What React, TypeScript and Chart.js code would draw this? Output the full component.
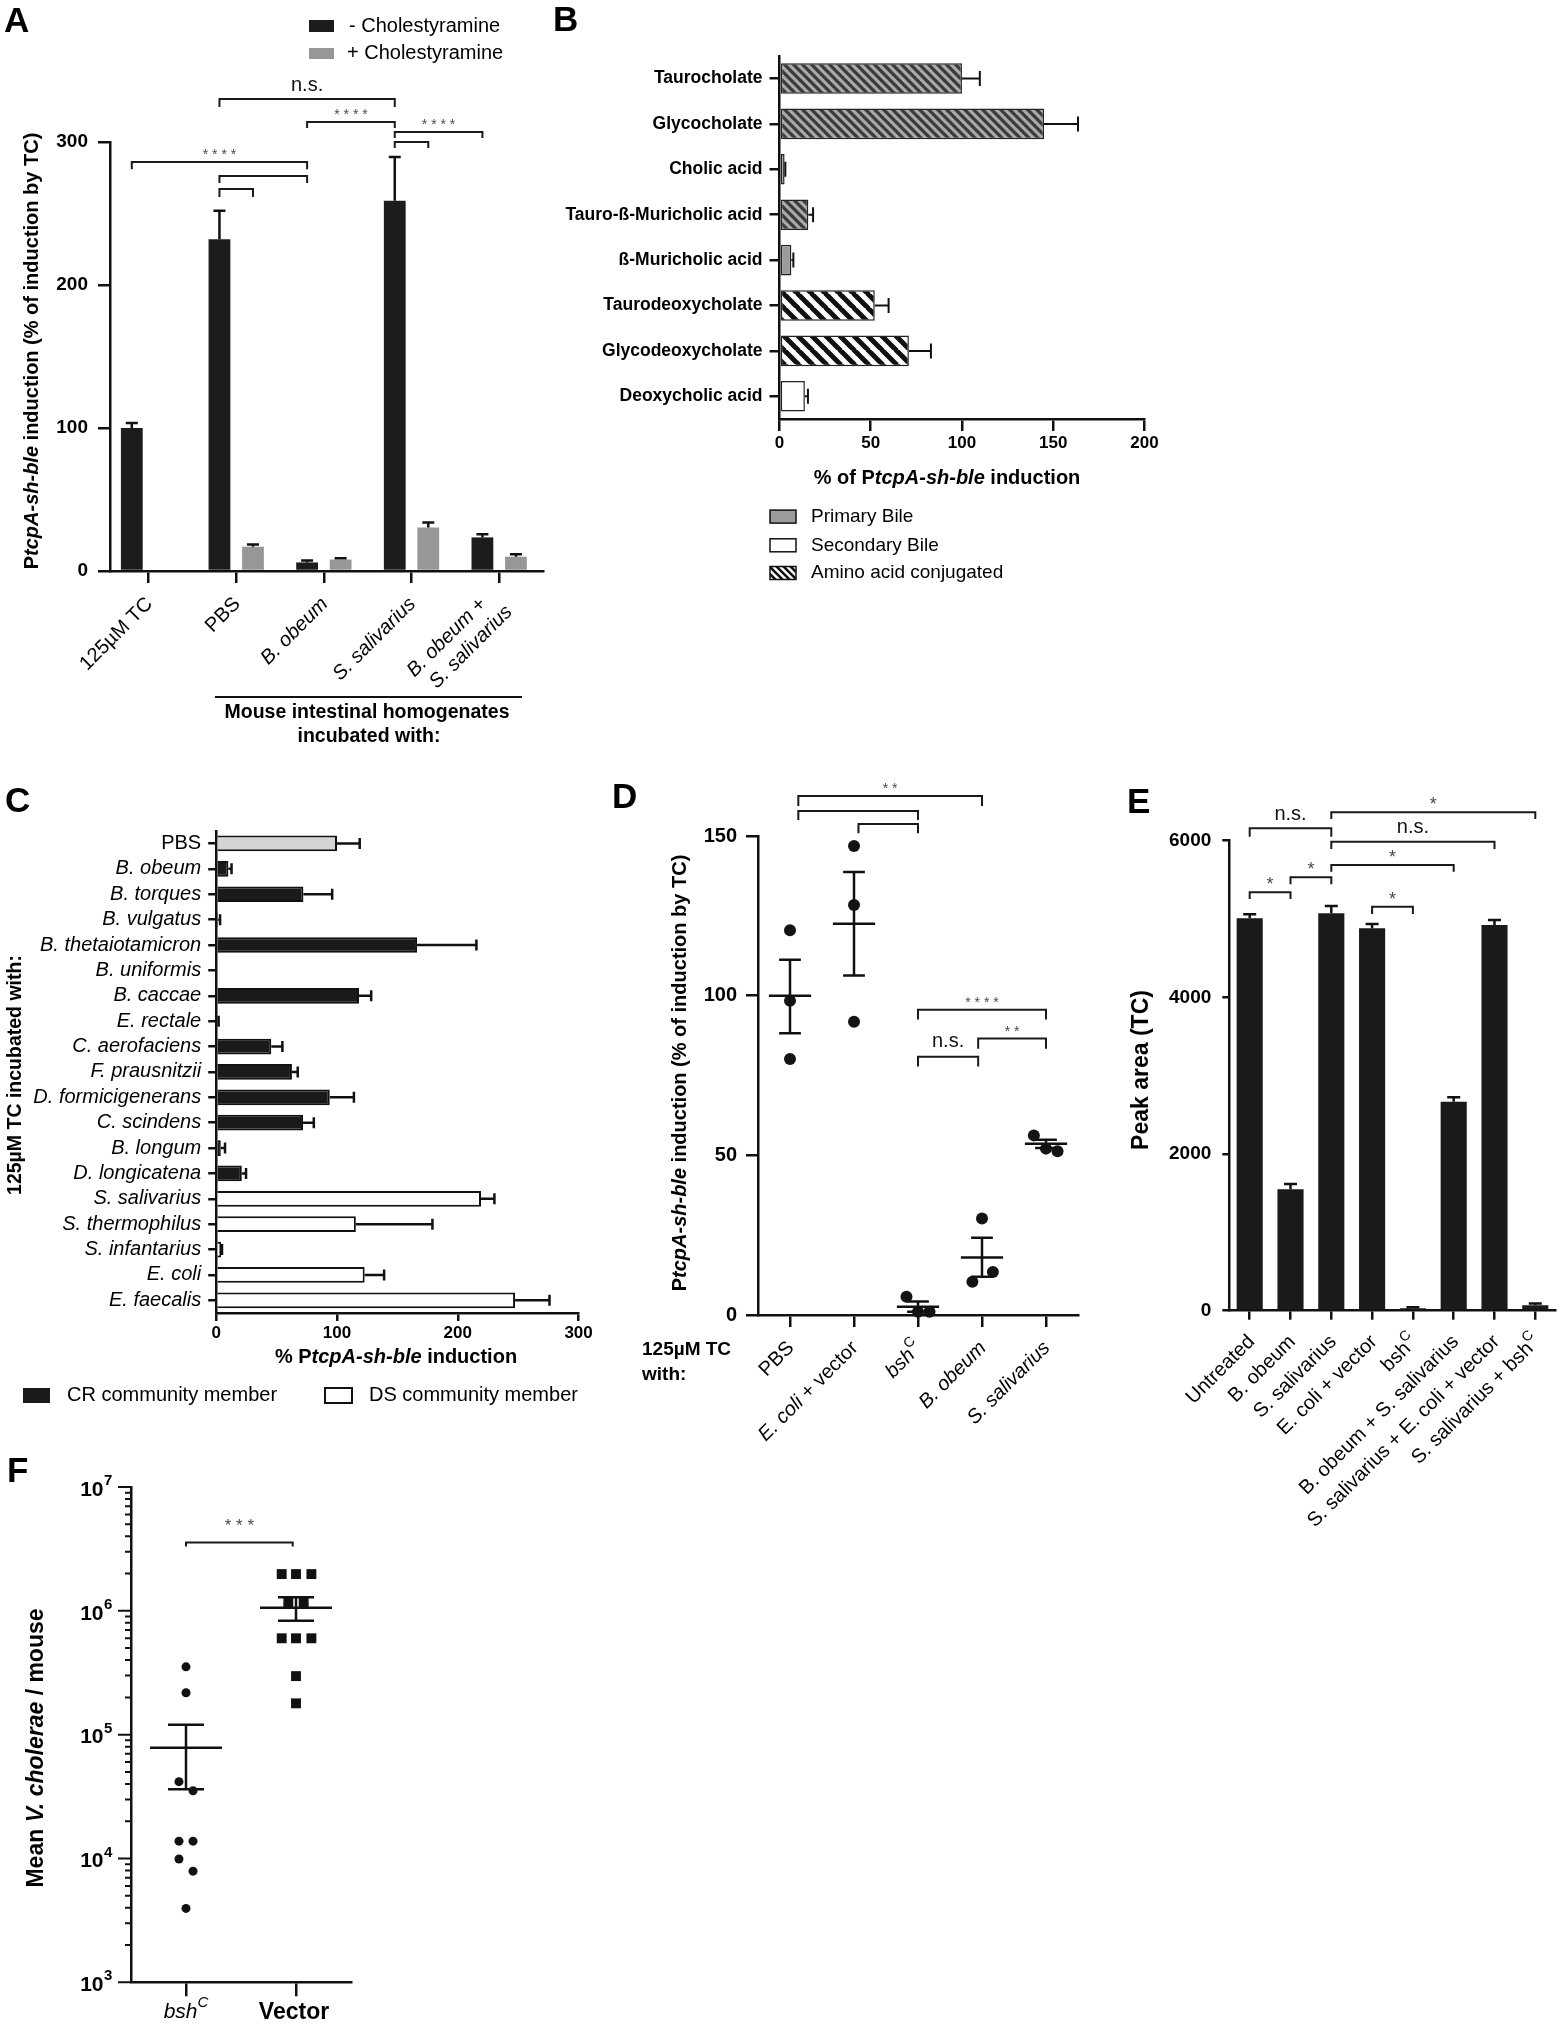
import React, { useEffect, useRef } from 'react';
import { Chart, registerables } from 'chart.js';

Chart.register(...registerables);

const FONT = '"Liberation Sans", Arial, Helvetica, sans-serif';
Chart.defaults.font.family = FONT;
Chart.defaults.color = '#000';

const PAGE_W = 1560;
const PAGE_H = 2025;

type Seg = { t: string; i?: boolean; b?: boolean; sup?: boolean };

/* ================= Panel A data ================= */
const A_CATEGORIES = ['125µM TC', 'PBS', 'B. obeum', 'S. salivarius', 'B. obeum + S. salivarius'];
const A_SERIES = ['- Cholestyramine', '+ Cholestyramine'];
const A_MINUS = [100, 232, 6, 259, 23.5];
const A_MINUS_ERR = [103.5, 252, 7.4, 289.5, 25.7];
const A_PLUS = [null, 17, 8, 30.5, 10];
const A_PLUS_ERR = [null, 18.5, 9, 34, 11.8];
const A_Y_TICKS = [0, 100, 200, 300];
const A_TICK_LABELS: Seg[][][] = [
  [[{ t: '125µM TC' }]],
  [[{ t: 'PBS' }]],
  [[{ t: 'B. obeum', i: true }]],
  [[{ t: 'S. salivarius', i: true }]],
  [[{ t: 'B. obeum', i: true }, { t: ' +' }], [{ t: 'S. salivarius', i: true }]],
];
const A_BRACKETS = [
  { a: [0, 1], b: [0, 3], y: 330, leg: 324.5, label: 'n.s.' },
  { a: [0, 2], b: [0, 3], y: 314, leg: 309.8, label: '****' },
  { a: [0, 3], b: [0, 4], y: 307, leg: 302.8, label: '****' },
  { a: [0, 3], b: [1, 3], y: 300, leg: 295.8, label: '' },
  { a: [0, 0], b: [0, 2], y: 286, leg: 281, label: '****' },
  { a: [0, 1], b: [0, 2], y: 276.2, leg: 271.3, label: '' },
  { a: [0, 1], b: [1, 1], y: 267.1, leg: 261.5, label: '' },
];

/* ================= Panel B data ================= */
const B_CATEGORIES = ['Taurocholate', 'Glycocholate', 'Cholic acid', 'Tauro-ß-Muricholic acid', 'ß-Muricholic acid', 'Taurodeoxycholate', 'Glycodeoxycholate', 'Deoxycholic acid'];
const B_VALUES = [100, 145, 2.8, 15.8, 6.5, 52.2, 70.9, 13.9];
const B_ERR = [109.8, 163.6, 3.2, 18.4, 7.6, 59.8, 83, 15.6];
const B_CLASS = ['primaryConj', 'primaryConj', 'primary', 'primaryConj', 'primary', 'secondaryConj', 'secondaryConj', 'secondary'];
const B_X_TICKS = [0, 50, 100, 150, 200];
const B_LEGEND = ['Primary Bile', 'Secondary Bile', 'Amino acid conjugated'];

/* ================= Panel C data ================= */
const C_CATEGORIES = ['PBS', 'B. obeum', 'B. torques', 'B. vulgatus', 'B. thetaiotamicron', 'B. uniformis', 'B. caccae', 'E. rectale', 'C. aerofaciens', 'F. prausnitzii', 'D. formicigenerans', 'C. scindens', 'B. longum', 'D. longicatena', 'S. salivarius', 'S. thermophilus', 'S. infantarius', 'E. coli', 'E. faecalis'];
const C_VALUES = [100, 10.1, 72.2, 1.6, 166.3, 0, 118.2, 1, 45.6, 62.7, 94, 71.9, 3.8, 21.2, 219.2, 115.6, 4.1, 122.9, 247.4];
const C_ERR = [118.8, 12.7, 96, 3.2, 215.4, 0, 128.3, 2, 54.8, 67.5, 114, 80.8, 7.3, 24.7, 230.3, 179, 4.8, 139, 275.9];
const C_GROUP = ['PBS', 'CR', 'CR', 'CR', 'CR', 'CR', 'CR', 'CR', 'CR', 'CR', 'CR', 'CR', 'CR', 'CR', 'DS', 'DS', 'DS', 'DS', 'DS'];
const C_X_TICKS = [0, 100, 200, 300];
const C_LEGEND = ['CR community member', 'DS community member'];

/* ================= Panel D data ================= */
const D_CATEGORIES = ['PBS', 'E. coli + vector', 'bshC', 'B. obeum', 'S. salivarius'];
const D_POINTS = [[120.5, 98.4, 80.2], [146.9, 128.4, 91.8], [5.7, 1.0, 1.0], [30.2, 13.5, 10.4], [56.25, 52.1, 51.25]];
const D_JITTER = [[0, 0, 0], [0, 0, 0], [-0.18, 0, 0.18], [0, 0.17, -0.15], [-0.19, 0, 0.18]];
const D_MEAN = [100, 122.5, 2.6, 18.0, 53.6];
const D_SEM_HI = [111.25, 138.75, 4.2, 24.2, 54.9];
const D_SEM_LO = [88.2, 106.3, 1.0, 12.0, 52.3];
const D_Y_TICKS = [0, 50, 100, 150];
const D_TICK_LABELS: Seg[][] = [
  [{ t: 'PBS' }],
  [{ t: 'E. coli', i: true }, { t: ' + vector' }],
  [{ t: 'bsh', i: true }, { t: 'C', sup: true }],
  [{ t: 'B. obeum', i: true }],
  [{ t: 'S. salivarius', i: true }],
];
const D_BRACKETS = [
  { x1: 0.13, x2: 3, y: 162.5, leg: 159.4, label: '**' },
  { x1: 0.13, x2: 2, y: 157.8, leg: 155.0, label: '' },
  { x1: 1.07, x2: 2, y: 153.75, leg: 150.9, label: '' },
  { x1: 2, x2: 4, y: 95.6, leg: 92.5, label: '****' },
  { x1: 2.94, x2: 4, y: 86.6, leg: 83.4, label: '**' },
  { x1: 2, x2: 2.94, y: 80.9, leg: 77.8, label: 'n.s.' },
];

/* ================= Panel E data ================= */
const E_CATEGORIES = ['Untreated', 'B. obeum', 'S. salivarius', 'E. coli + vector', 'bshC', 'B. obeum + S. salivarius', 'S. salivarius + E. coli + vector', 'S. salivarius + bshC'];
const E_VALUES = [5010, 1550, 5073, 4882, 30, 2668, 4924, 70];
const E_ERR = [5061, 1617, 5167, 4937, 45, 2724, 4988, 92];
const E_Y_TICKS = [0, 2000, 4000, 6000];
const E_TICK_LABELS: Seg[][] = [
  [{ t: 'Untreated' }],
  [{ t: 'B. obeum' }],
  [{ t: 'S. salivarius' }],
  [{ t: 'E. coli + vector' }],
  [{ t: 'bsh' }, { t: 'C', sup: true }],
  [{ t: 'B. obeum + S. salivarius' }],
  [{ t: 'S. salivarius + E. coli + vector' }],
  [{ t: 'S. salivarius + bsh' }, { t: 'C', sup: true }],
];
const E_BRACKETS = [
  { a: 0, b: 2, y: 6158, leg: 6051, label: 'n.s.' },
  { a: 2, b: 7, y: 6363, leg: 6277, label: '*' },
  { a: 2, b: 6, y: 5988, leg: 5894, label: 'n.s.' },
  { a: 2, b: 5, y: 5691, leg: 5605, label: '*' },
  { a: 1, b: 2, y: 5533, leg: 5444, label: '*' },
  { a: 0, b: 1, y: 5342, leg: 5256, label: '*' },
  { a: 3, b: 4, y: 5158, leg: 5064, label: '*' },
];

/* ================= Panel F data ================= */
const F_CATEGORIES = ['bshC', 'Vector'];
const F_BSH = [3.53e5, 2.18e5, 4.17e4, 3.52e4, 1.38e4, 1.38e4, 9.9e3, 7.9e3, 3.95e3];
const F_BSH_JITTER = [0, 0, -0.064, 0.064, -0.064, 0.064, -0.064, 0.064, 0];
const F_VECTOR = [1.98e6, 1.98e6, 1.98e6, 1.17e6, 1.17e6, 6.0e5, 6.0e5, 6.0e5, 2.97e5, 1.79e5];
const F_VECTOR_JITTER = [-0.13, 0, 0.14, -0.07, 0.07, -0.13, 0, 0.14, 0, 0];
const F_MEAN = [7.84e4, 1.06e6];
const F_SEM_HI = [1.2e5, 1.29e6];
const F_SEM_LO = [3.63e4, 8.3e5];
const F_DECADES = [3, 4, 5, 6, 7];
const F_BRACKET = { x1: 0, x2: 0.97, y: 3.57e6, leg: 3.3e6, label: '***' };

/* ================= helpers ================= */
function fontStr(size: number, bold: boolean, italic: boolean) {
  return `${italic ? 'italic ' : ''}${bold ? 'bold ' : ''}${size}px ${FONT}`;
}

function drawRich(ctx: any, segs: Seg[], x: number, y: number, size: number, o: any = {}) {
  ctx.save();
  ctx.translate(x, y);
  if (o.angle) ctx.rotate(o.angle);
  ctx.fillStyle = o.color || '#000';
  ctx.textBaseline = 'middle';
  ctx.textAlign = 'left';
  const fonts = segs.map((s) => fontStr(s.sup ? Math.round(size * 0.7) : size, s.b ?? !!o.bold, !!s.i));
  const widths = segs.map((s, k) => {
    ctx.font = fonts[k];
    return ctx.measureText(s.t).width;
  });
  const total = widths.reduce((a, b) => a + b, 0);
  let cx = o.align === 'center' ? -total / 2 : o.align === 'right' ? -total : 0;
  segs.forEach((s, k) => {
    ctx.font = fonts[k];
    ctx.fillText(s.t, cx, s.sup ? -size * 0.42 : 0);
    cx += widths[k];
  });
  ctx.restore();
}

function panelLetter(ctx: any, s: string, x: number, y: number) {
  ctx.save();
  ctx.font = fontStr(35, true, false);
  ctx.fillStyle = '#000';
  ctx.textBaseline = 'alphabetic';
  ctx.textAlign = 'left';
  ctx.fillText(s, x, y);
  ctx.restore();
}

function drawBracket(ctx: any, x1: number, x2: number, yBar: number, yLeg: number, label: string, st: any) {
  ctx.save();
  ctx.strokeStyle = '#1a1a1a';
  ctx.lineWidth = 2;
  ctx.beginPath();
  ctx.moveTo(x1, yLeg);
  ctx.lineTo(x1, yBar);
  ctx.lineTo(x2, yBar);
  ctx.lineTo(x2, yLeg);
  ctx.stroke();
  ctx.restore();
  if (!label) return;
  const xm = (x1 + x2) / 2;
  if (label.includes('*')) {
    const txt = st.spaced ? label.split('').join(' ') : label;
    drawRich(ctx, [{ t: txt }], xm, yBar - st.starGap + 0.23 * st.star, st.star, { align: 'center', color: '#4a4a4a' });
  } else {
    drawRich(ctx, [{ t: label }], xm, yBar - st.nsGap - 0.09 * st.ns, st.ns, { align: 'center', color: '#111' });
  }
}

function errorV(ctx: any, x: number, y0: number, y1: number, half: number, lw: number) {
  ctx.save();
  ctx.strokeStyle = '#111';
  ctx.lineWidth = lw;
  ctx.beginPath();
  ctx.moveTo(x, y0);
  ctx.lineTo(x, y1);
  ctx.moveTo(x - half, y1);
  ctx.lineTo(x + half, y1);
  ctx.stroke();
  ctx.restore();
}

function errorH(ctx: any, x0: number, x1: number, y: number, half: number, lw: number) {
  ctx.save();
  ctx.strokeStyle = '#111';
  ctx.lineWidth = lw;
  ctx.beginPath();
  ctx.moveTo(x0, y);
  ctx.lineTo(x1, y);
  ctx.moveTo(x1, y - half);
  ctx.lineTo(x1, y + half);
  ctx.stroke();
  ctx.restore();
}

function meanSem(ctx: any, xs: any, ys: any, i: number, mean: number, lo: number, hi: number, meanHalf: number, capHalf: number) {
  const cx = xs.getPixelForValue(i);
  const ml = xs.getPixelForValue(i - meanHalf);
  const mr = xs.getPixelForValue(i + meanHalf);
  const cl = xs.getPixelForValue(i - capHalf);
  const cr = xs.getPixelForValue(i + capHalf);
  const ym = ys.getPixelForValue(mean);
  const yl = ys.getPixelForValue(lo);
  const yh = ys.getPixelForValue(hi);
  ctx.save();
  ctx.strokeStyle = '#111';
  ctx.lineWidth = 2.5;
  ctx.beginPath();
  ctx.moveTo(ml, ym);
  ctx.lineTo(mr, ym);
  ctx.moveTo(cx, yl);
  ctx.lineTo(cx, yh);
  ctx.moveTo(cl, yh);
  ctx.lineTo(cr, yh);
  ctx.moveTo(cl, yl);
  ctx.lineTo(cr, yl);
  ctx.stroke();
  ctx.restore();
}

function stripes(bg: string, fg: string, period: number, lw: number) {
  const c = document.createElement('canvas');
  c.width = period;
  c.height = period;
  const g = c.getContext('2d') as CanvasRenderingContext2D;
  g.fillStyle = bg;
  g.fillRect(0, 0, period, period);
  g.strokeStyle = fg;
  g.lineWidth = lw;
  g.beginPath();
  for (const o of [-period, 0, period]) {
    g.moveTo(o - 1, -1);
    g.lineTo(o + period + 1, period + 1);
  }
  g.stroke();
  return g.createPattern(c, 'repeat') as CanvasPattern;
}

function baseOptions(area: any, yW: number, xH: number) {
  return {
    responsive: false,
    maintainAspectRatio: false,
    animation: false,
    devicePixelRatio: 1,
    events: [],
    layout: { padding: { left: area.l - yW, top: area.t, right: PAGE_W - area.r, bottom: PAGE_H - area.b - xH } },
    plugins: { legend: { display: false }, tooltip: { enabled: false }, title: { display: false } },
  };
}

function axisLine(tickLength: number, showGrid = true) {
  return {
    grid: { display: showGrid, drawOnChartArea: false, drawTicks: true, tickLength, color: '#111', lineWidth: 2.5, offset: false },
    border: { display: true, color: '#111', width: 2.5 },
  };
}

const fixW = (w: number) => (s: any) => {
  s.width = w;
  s.paddingTop = 0;
  s.paddingBottom = 0;
};
const fixH = (h: number) => (s: any) => {
  s.height = h;
  s.paddingLeft = 0;
  s.paddingRight = 0;
};
const tickFont = (size: number, bold = true) => ({ family: FONT, size, weight: bold ? 'bold' : 'normal' });
const setTicks = (vals: number[]) => (s: any) => {
  s.ticks = vals.map((v) => ({ value: v }));
};

/* ================= Panel A ================= */
function makeA(canvas: HTMLCanvasElement) {
  const area = { l: 110, t: 142, r: 543, b: 571 };
  const colors = ['#1c1c1c', '#979797'];
  const st = { star: 14, ns: 20, starGap: 10, nsGap: 12, spaced: true };
  const plugin = {
    id: 'panelA',
    afterDatasetsDraw(chart: any) {
      const ctx = chart.ctx;
      const ys = chart.scales.y;
      [A_MINUS_ERR, A_PLUS_ERR].forEach((errs, d) => {
        chart.getDatasetMeta(d).data.forEach((el: any, j: number) => {
          const e = errs[j];
          if (e == null) return;
          errorV(ctx, el.x, el.y, ys.getPixelForValue(e), 6, 2.5);
        });
      });
    },
    afterDraw(chart: any) {
      const ctx = chart.ctx;
      const xs = chart.scales.x;
      const ys = chart.scales.y;
      const barX = (ref: number[]) => chart.getDatasetMeta(ref[0]).data[ref[1]].x;
      A_BRACKETS.forEach((b) => drawBracket(ctx, barX(b.a), barX(b.b), ys.getPixelForValue(b.y), ys.getPixelForValue(b.leg), b.label, st));
      A_TICK_LABELS.forEach((lines, i) => {
        const tx = xs.getPixelForValue(i);
        const multi = lines.length > 1;
        lines.forEach((segs, k) => {
          drawRich(ctx, segs, tx + (multi ? -16 : 1) + 26 * k, ys.bottom + 30 + 8 * k, 20, { align: 'right', angle: -Math.PI / 4 });
        });
      });
      const dsc = chart.data.datasets.map((d: any) => d.backgroundColor);
      ctx.fillStyle = dsc[0];
      ctx.fillRect(309, 20, 25, 12);
      drawRich(ctx, [{ t: A_SERIES[0] }], 349, 26, 20);
      ctx.fillStyle = dsc[1];
      ctx.fillRect(309, 48, 25, 11);
      drawRich(ctx, [{ t: A_SERIES[1] }], 347, 53.5, 20);
      drawRich(ctx, [{ t: 'P' }, { t: 'tcpA-sh-ble', i: true }, { t: ' induction (% of induction by TC)' }], 32, 351, 20, { bold: true, align: 'center', angle: -Math.PI / 2 });
      ctx.save();
      ctx.strokeStyle = '#111';
      ctx.lineWidth = 2;
      ctx.beginPath();
      ctx.moveTo(215, 697);
      ctx.lineTo(522, 697);
      ctx.stroke();
      ctx.restore();
      drawRich(ctx, [{ t: 'Mouse intestinal homogenates' }], 367, 713, 19.5, { bold: true, align: 'center' });
      drawRich(ctx, [{ t: 'incubated with:' }], 369, 737, 19.5, { bold: true, align: 'center' });
      panelLetter(ctx, 'A', 4, 32);
    },
  };
  return new Chart(canvas, {
    type: 'bar',
    data: {
      datasets: [A_MINUS, A_PLUS].map((vals, d) => ({
        label: A_SERIES[d],
        data: vals.map((v, i) => ({ x: i, y: v })),
        backgroundColor: colors[d],
        borderWidth: 0,
        barPercentage: 0.65,
        categoryPercentage: 0.765,
      })),
    },
    options: {
      ...baseOptions(area, 60, 40),
      scales: {
        x: {
          type: 'linear', min: -0.44, max: 4.5, offset: false,
          afterBuildTicks: setTicks(A_CATEGORIES.map((_, i) => i)),
          ticks: { display: false },
          ...axisLine(12),
          afterFit: fixH(40),
        },
        y: {
          type: 'linear', min: 0, max: 300,
          afterBuildTicks: setTicks(A_Y_TICKS),
          ticks: { font: tickFont(19), color: '#000', padding: 10, callback: (v: any) => String(v) },
          ...axisLine(12),
          afterFit: fixW(60),
        },
      },
    },
    plugins: [plugin],
  } as any);
}

/* ================= Panel B ================= */
function makeB(canvas: HTMLCanvasElement) {
  const area = { l: 779.5, t: 55.8, r: 1144.4, b: 419 };
  const fills: any = {
    primary: '#9c9c9c',
    secondary: '#ffffff',
    primaryConj: stripes('#a9a9a9', '#3a3a3a', 9, 3.2),
    secondaryConj: stripes('#ffffff', '#111111', 14, 5),
  };
  const legendFills = [fills.primary, fills.secondary, stripes('#ffffff', '#111111', 7, 2.6)];
  const plugin = {
    id: 'panelB',
    afterDatasetsDraw(chart: any) {
      const ctx = chart.ctx;
      const xs = chart.scales.x;
      chart.getDatasetMeta(0).data.forEach((el: any, j: number) => {
        errorH(ctx, el.x, xs.getPixelForValue(B_ERR[j]), el.y, 7.5, 2);
      });
    },
    afterDraw(chart: any) {
      const ctx = chart.ctx;
      drawRich(ctx, [{ t: '% of P' }, { t: 'tcpA-sh-ble', i: true }, { t: ' induction' }], 947, 478, 20, { bold: true, align: 'center' });
      const ly = [516.6, 545.3, 573];
      B_LEGEND.forEach((txt, k) => {
        ctx.save();
        ctx.fillStyle = legendFills[k];
        ctx.fillRect(770, ly[k] - 6.5, 26, 13);
        ctx.strokeStyle = '#111';
        ctx.lineWidth = 1.5;
        ctx.strokeRect(770, ly[k] - 6.5, 26, 13);
        ctx.restore();
        drawRich(ctx, [{ t: txt }], 811, ly[k], 19);
      });
      panelLetter(ctx, 'B', 553, 31);
    },
  };
  return new Chart(canvas, {
    type: 'bar',
    data: {
      labels: B_CATEGORIES,
      datasets: [{
        data: B_VALUES,
        backgroundColor: B_CLASS.map((c) => fills[c]),
        borderColor: '#222',
        borderWidth: 1.5,
        borderSkipped: false,
        barPercentage: 0.675,
        categoryPercentage: 1,
      }],
    },
    options: {
      ...baseOptions(area, 230, 45),
      indexAxis: 'y',
      scales: {
        x: {
          type: 'linear', min: 0, max: 200,
          afterBuildTicks: setTicks(B_X_TICKS),
          ticks: { font: tickFont(17), color: '#000', padding: 2, callback: (v: any) => String(v) },
          ...axisLine(12),
          afterFit: fixH(45),
        },
        y: {
          type: 'category',
          ticks: { font: tickFont(17.5), color: '#000', padding: 7, autoSkip: false },
          ...axisLine(10),
          afterFit: fixW(230),
        },
      },
    },
    plugins: [plugin],
  } as any);
}

/* ================= Panel C ================= */
function makeC(canvas: HTMLCanvasElement) {
  const area = { l: 216.2, t: 830.8, r: 578.6, b: 1313 };
  const groupFill: any = { PBS: '#d4d4d4', CR: '#1a1a1a', DS: '#ffffff' };
  const plugin = {
    id: 'panelC',
    afterDatasetsDraw(chart: any) {
      const ctx = chart.ctx;
      const xs = chart.scales.x;
      chart.getDatasetMeta(0).data.forEach((el: any, j: number) => {
        if (!C_ERR[j]) return;
        errorH(ctx, el.x, xs.getPixelForValue(C_ERR[j]), el.y, 5.5, 2.5);
      });
    },
    afterDraw(chart: any) {
      const ctx = chart.ctx;
      drawRich(ctx, [{ t: '% P' }, { t: 'tcpA-sh-ble', i: true }, { t: ' induction' }], 396, 1357.5, 20, { bold: true, align: 'center' });
      drawRich(ctx, [{ t: '125µM TC incubated with:' }], 16, 1075, 19.5, { bold: true, align: 'center', angle: -Math.PI / 2 });
      ctx.save();
      ctx.fillStyle = groupFill.CR;
      ctx.fillRect(23, 1388, 27, 15);
      ctx.fillStyle = groupFill.DS;
      ctx.fillRect(325, 1388, 27, 15);
      ctx.strokeStyle = '#111';
      ctx.lineWidth = 2;
      ctx.strokeRect(325, 1388, 27, 15);
      ctx.restore();
      drawRich(ctx, [{ t: C_LEGEND[0] }], 67, 1395.5, 20);
      drawRich(ctx, [{ t: C_LEGEND[1] }], 369, 1395.5, 20);
      panelLetter(ctx, 'C', 5, 812);
    },
  };
  return new Chart(canvas, {
    type: 'bar',
    data: {
      labels: C_CATEGORIES,
      datasets: [{
        data: C_VALUES,
        backgroundColor: C_GROUP.map((g) => groupFill[g]),
        borderColor: '#111',
        borderWidth: 2,
        borderSkipped: 'start',
        barPercentage: 0.62,
        categoryPercentage: 1,
      }],
    },
    options: {
      ...baseOptions(area, 210, 40),
      indexAxis: 'y',
      scales: {
        x: {
          type: 'linear', min: 0, max: 300,
          afterBuildTicks: setTicks(C_X_TICKS),
          ticks: { font: tickFont(17), color: '#000', padding: 2, callback: (v: any) => String(v) },
          ...axisLine(8),
          afterFit: fixH(40),
        },
        y: {
          type: 'category',
          ticks: {
            color: '#000', padding: 7, autoSkip: false,
            font: (c: any) => ({ family: FONT, size: 20, weight: 'normal', style: C_GROUP[c.index] === 'PBS' ? 'normal' : 'italic' }),
          },
          ...axisLine(8),
          afterFit: fixW(210),
        },
      },
    },
    plugins: [plugin],
  } as any);
}

/* ================= Panel D ================= */
function makeD(canvas: HTMLCanvasElement) {
  const area = { l: 758, t: 836, r: 1078, b: 1315 };
  const st = { star: 14, ns: 20, starGap: 10, nsGap: 13, spaced: true };
  const pts = D_POINTS.flatMap((vals, i) => vals.map((v, k) => ({ x: i + D_JITTER[i][k], y: v })));
  const plugin = {
    id: 'panelD',
    afterDatasetsDraw(chart: any) {
      const ctx = chart.ctx;
      const xs = chart.scales.x;
      const ys = chart.scales.y;
      D_MEAN.forEach((m, i) => meanSem(ctx, xs, ys, i, m, D_SEM_LO[i], D_SEM_HI[i], 0.33, 0.17));
    },
    afterDraw(chart: any) {
      const ctx = chart.ctx;
      const xs = chart.scales.x;
      const ys = chart.scales.y;
      D_BRACKETS.forEach((b) => drawBracket(ctx, xs.getPixelForValue(b.x1), xs.getPixelForValue(b.x2), ys.getPixelForValue(b.y), ys.getPixelForValue(b.leg), b.label, st));
      D_TICK_LABELS.forEach((segs, i) => {
        drawRich(ctx, segs, xs.getPixelForValue(i) + 1, ys.bottom + 30, 20, { align: 'right', angle: -Math.PI / 4 });
      });
      drawRich(ctx, [{ t: 'P' }, { t: 'tcpA-sh-ble', i: true }, { t: ' induction (% of induction by TC)' }], 680, 1073, 20, { bold: true, align: 'center', angle: -Math.PI / 2 });
      drawRich(ctx, [{ t: '125µM TC' }], 642, 1350, 19, { bold: true });
      drawRich(ctx, [{ t: 'with:' }], 642, 1375, 19, { bold: true });
      panelLetter(ctx, 'D', 612, 808);
    },
  };
  return new Chart(canvas, {
    type: 'scatter',
    data: {
      datasets: [{ data: pts, pointRadius: 6, pointBackgroundColor: '#141414', pointBorderWidth: 0, clip: false }],
    },
    options: {
      ...baseOptions(area, 80, 30),
      scales: {
        x: {
          type: 'linear', min: -0.5, max: 4.5,
          afterBuildTicks: setTicks(D_CATEGORIES.map((_, i) => i)),
          ticks: { display: false },
          ...axisLine(12),
          afterFit: fixH(30),
        },
        y: {
          type: 'linear', min: 0, max: 150,
          afterBuildTicks: setTicks(D_Y_TICKS),
          ticks: { font: tickFont(20), color: '#000', padding: 9, callback: (v: any) => String(v) },
          ...axisLine(12),
          afterFit: fixW(80),
        },
      },
    },
    plugins: [plugin],
  } as any);
}

/* ================= Panel E ================= */
function makeE(canvas: HTMLCanvasElement) {
  const area = { l: 1229.3, t: 840.7, r: 1555.7, b: 1310.7 };
  const st = { star: 18, ns: 20, starGap: 11, nsGap: 12, spaced: false };
  const plugin = {
    id: 'panelE',
    afterDatasetsDraw(chart: any) {
      const ctx = chart.ctx;
      const ys = chart.scales.y;
      chart.getDatasetMeta(0).data.forEach((el: any, j: number) => {
        errorV(ctx, el.x, el.y, ys.getPixelForValue(E_ERR[j]), 6.5, 2.5);
      });
    },
    afterDraw(chart: any) {
      const ctx = chart.ctx;
      const xs = chart.scales.x;
      const ys = chart.scales.y;
      E_BRACKETS.forEach((b) => drawBracket(ctx, xs.getPixelForValue(b.a), xs.getPixelForValue(b.b), ys.getPixelForValue(b.y), ys.getPixelForValue(b.leg), b.label, st));
      E_TICK_LABELS.forEach((segs, i) => {
        drawRich(ctx, segs, xs.getPixelForValue(i) + 2, ys.bottom + 28, 20, { align: 'right', angle: -Math.PI / 4 });
      });
      drawRich(ctx, [{ t: 'Peak area (TC)' }], 1142, 1070, 23, { bold: true, align: 'center', angle: -Math.PI / 2 });
      panelLetter(ctx, 'E', 1127, 813);
    },
  };
  return new Chart(canvas, {
    type: 'bar',
    data: {
      labels: E_CATEGORIES,
      datasets: [{ data: E_VALUES, backgroundColor: '#1a1a1a', borderWidth: 0, barPercentage: 0.64, categoryPercentage: 1 }],
    },
    options: {
      ...baseOptions(area, 100, 30),
      scales: {
        x: { type: 'category', ticks: { display: false }, ...axisLine(9), afterFit: fixH(30) },
        y: {
          type: 'linear', min: 0, max: 6000,
          afterBuildTicks: setTicks(E_Y_TICKS),
          ticks: { font: tickFont(19), color: '#000', padding: 11, callback: (v: any) => String(v) },
          ...axisLine(7),
          afterFit: fixW(100),
        },
      },
    },
    plugins: [plugin],
  } as any);
}

/* ================= Panel F ================= */
function makeF(canvas: HTMLCanvasElement) {
  const area = { l: 131, t: 1487, r: 351, b: 1982.3 };
  const st = { star: 17, ns: 20, starGap: 20, nsGap: 12, spaced: true };
  const plugin = {
    id: 'panelF',
    afterDatasetsDraw(chart: any) {
      const ctx = chart.ctx;
      const xs = chart.scales.x;
      const ys = chart.scales.y;
      F_MEAN.forEach((m, i) => meanSem(ctx, xs, ys, i, m, F_SEM_LO[i], F_SEM_HI[i], 0.327, 0.164));
    },
    afterDraw(chart: any) {
      const ctx = chart.ctx;
      const xs = chart.scales.x;
      const ys = chart.scales.y;
      const ax = ys.right;
      ctx.save();
      ctx.strokeStyle = '#111';
      ctx.lineWidth = 2;
      ctx.beginPath();
      F_DECADES.forEach((e, k) => {
        const py = ys.getPixelForValue(Math.pow(10, e));
        ctx.moveTo(ax - 13, py);
        ctx.lineTo(ax, py);
        if (k < F_DECADES.length - 1) {
          for (let m = 2; m <= 9; m++) {
            const my = ys.getPixelForValue(m * Math.pow(10, e));
            ctx.moveTo(ax - 6, my);
            ctx.lineTo(ax, my);
          }
        }
      });
      ctx.stroke();
      ctx.restore();
      F_DECADES.forEach((e) => {
        const py = ys.getPixelForValue(Math.pow(10, e));
        drawRich(ctx, [{ t: '10' }], ax - 27.5, py + 3, 21, { bold: true, align: 'right' });
        drawRich(ctx, [{ t: String(e) }], ax - 27, py - 6, 15, { bold: true });
      });
      drawBracket(ctx, xs.getPixelForValue(F_BRACKET.x1), xs.getPixelForValue(F_BRACKET.x2), ys.getPixelForValue(F_BRACKET.y), ys.getPixelForValue(F_BRACKET.leg), F_BRACKET.label, st);
      drawRich(ctx, [{ t: 'bsh', i: true }, { t: 'C', i: true, sup: true }], xs.getPixelForValue(0), 2012, 21, { align: 'center' });
      drawRich(ctx, [{ t: F_CATEGORIES[1] }], xs.getPixelForValue(1) - 2, 2013, 23, { bold: true, align: 'center' });
      drawRich(ctx, [{ t: 'Mean ' }, { t: 'V. cholerae', i: true }, { t: ' / mouse' }], 37, 1748, 23, { bold: true, align: 'center', angle: -Math.PI / 2 });
      panelLetter(ctx, 'F', 7, 1482);
    },
  };
  return new Chart(canvas, {
    type: 'scatter',
    data: {
      datasets: [
        { data: F_BSH.map((v, k) => ({ x: 0 + F_BSH_JITTER[k], y: v })), pointStyle: 'circle', pointRadius: 4.5, pointBackgroundColor: '#111', pointBorderWidth: 0, clip: false },
        { data: F_VECTOR.map((v, k) => ({ x: 1 + F_VECTOR_JITTER[k], y: v })), pointStyle: 'rect', pointRadius: 7, pointBackgroundColor: '#111', pointBorderWidth: 0, clip: false },
      ],
    },
    options: {
      ...baseOptions(area, 100, 30),
      scales: {
        x: {
          type: 'linear', min: -0.5, max: 1.5,
          afterBuildTicks: setTicks(F_CATEGORIES.map((_, i) => i)),
          ticks: { display: false },
          ...axisLine(14),
          afterFit: fixH(30),
        },
        y: {
          type: 'logarithmic', min: 1000, max: 1e7,
          ticks: { display: false },
          grid: { display: false },
          border: { display: true, color: '#111', width: 2.5 },
          afterFit: fixW(100),
        },
      },
    },
    plugins: [plugin],
  } as any);
}

/* ================= React ================= */
function ChartLayer({ build }: { build: (c: HTMLCanvasElement) => Chart }) {
  const ref = useRef<HTMLCanvasElement>(null);
  useEffect(() => {
    const chart = build(ref.current as HTMLCanvasElement);
    return () => chart.destroy();
  }, [build]);
  return (
    <canvas
      ref={ref}
      width={PAGE_W}
      height={PAGE_H}
      style={{ position: 'absolute', left: 0, top: 0, width: PAGE_W, height: PAGE_H }}
    />
  );
}

const BUILDERS = [makeA, makeB, makeC, makeD, makeE, makeF];

export default function App() {
  return (
    <div style={{ position: 'absolute', left: 0, top: 0, width: PAGE_W, height: PAGE_H, background: '#fff', overflow: 'hidden' }}>
      {BUILDERS.map((b, i) => (
        <ChartLayer key={i} build={b} />
      ))}
    </div>
  );
}
